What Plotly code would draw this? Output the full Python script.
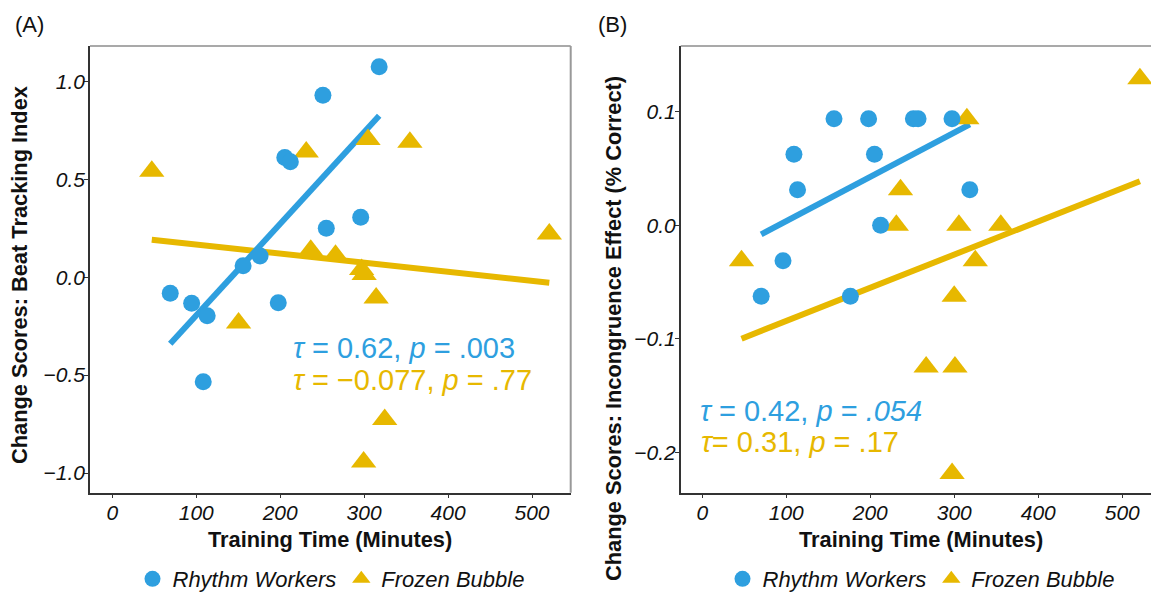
import numpy as np
import plotly.graph_objects as go

# ---------------- data ----------------
groups = ["Rhythm Workers", "Frozen Bubble"]

# Panel A: Beat Tracking Index change scores
a_rw_time = [69, 94.5, 108.3, 113, 155.8, 176, 197.7, 205.5, 212.1, 250.9, 254.9, 295.9, 317.9]
a_rw_score = [-0.082, -0.133, -0.534, -0.197, 0.059, 0.108, -0.130, 0.612, 0.590, 0.930, 0.250, 0.306, 1.075]
a_fb_time = [47, 150.4, 231, 236.4, 265.9, 297, 299.4, 300, 304.6, 314.3, 324.5, 354.5, 520.6]
a_fb_score = [0.541, -0.234, 0.640, 0.138, 0.112, 0.039, -0.944, 0.014, 0.703, -0.106, -0.727, 0.689, 0.221]

# Panel B: Incongruence Effect (% correct) change scores
b_rw_time = [70.1, 96.1, 109.1, 113.4, 156.8, 176.3, 198, 205, 212.3, 251.3, 256.9, 297.3, 318.5]
b_rw_score = [-0.0625, -0.03125, 0.0625, 0.03125, 0.09375, -0.0625, 0.09375, 0.0625, 0.0,
              0.09375, 0.09375, 0.09375, 0.03125]
b_fb_time = [46.7, 231, 236, 266.5, 297.4, 299.9, 300.8, 305.5, 315, 325, 355.4, 521]
b_fb_score = [-0.03125, 0.0, 0.03125, -0.125, -0.21875, -0.0625, -0.125, 0.0, 0.09375, -0.03125, 0.0, 0.129]

x_ticks = [0, 100, 200, 300, 400, 500]
a_y_ticks = [-1.0, -0.5, 0.0, 0.5, 1.0]
b_y_ticks = [-0.2, -0.1, 0.0, 0.1]

a_stats = ["<i>τ</i> = 0.62, <i>p</i> = .003", "<i>τ</i> = −0.077, <i>p</i> = .77"]
b_stats = ["<i>τ</i> = 0.42, <i>p</i> = <i>.054</i>", "<i>τ</i>= 0.31, <i>p</i> = .17"]

# ---------------- styling ----------------
W, H = 1151, 592
BLUE = "#2E9FDF"
GOLD = "#E7B800"
FONT = "Liberation Sans, Arial, Helvetica, sans-serif"


def fit_line(x, y):
    x = np.asarray(x, float)
    y = np.asarray(y, float)
    m, b = np.polyfit(x, y, 1)
    xs = np.array([x.min(), x.max()])
    return xs, m * xs + b


fig = go.Figure()

panels = [
    ("x", "y", "legend", a_rw_time, a_rw_score, a_fb_time, a_fb_score),
    ("x2", "y2", "legend2", b_rw_time, b_rw_score, b_fb_time, b_fb_score),
]

# regression lines (lm fits, as geom_smooth)
for xa, ya, lg, rwx, rwy, fbx, fby in panels:
    fx, fy = fit_line(fbx, fby)
    fig.add_trace(go.Scatter(x=fx, y=fy, mode="lines", line=dict(color=GOLD, width=6),
                             xaxis=xa, yaxis=ya, showlegend=False, hoverinfo="skip"))
    rx, ry = fit_line(rwx, rwy)
    fig.add_trace(go.Scatter(x=rx, y=ry, mode="lines", line=dict(color=BLUE, width=6),
                             xaxis=xa, yaxis=ya, showlegend=False, hoverinfo="skip"))

# points: triangles below circles
for xa, ya, lg, rwx, rwy, fbx, fby in panels:
    fig.add_trace(go.Scatter(x=fbx, y=fby, mode="markers", name=groups[1], legendrank=2,
                             marker=dict(symbol="triangle-up", size=22, color=GOLD, line=dict(width=0)),
                             xaxis=xa, yaxis=ya, legend=lg))
    fig.add_trace(go.Scatter(x=rwx, y=rwy, mode="markers", name=groups[0], legendrank=1,
                             marker=dict(symbol="circle", size=17, color=BLUE, line=dict(width=0)),
                             xaxis=xa, yaxis=ya, legend=lg))

ydom = [1 - 492.7 / H, 1 - 46 / H]
tickfont = dict(family=FONT, size=21, color="#111111", style="italic")
axis_common = dict(showgrid=False, zeroline=False, showline=True, linecolor="#333333", linewidth=1.5,
                   ticks="outside", ticklen=4, tickwidth=1, tickcolor="#333333", tickfont=tickfont,
                   automargin=False)
xstand = dict(ticklabelstandoff=-4)
ystand = dict(ticklabelstandoff=-5)

legend_font = dict(family=FONT, size=22, color="#111111", style="italic")
fig.update_layout(
    width=W, height=H,
    margin=dict(l=0, r=0, t=0, b=0, autoexpand=False),
    paper_bgcolor="white", plot_bgcolor="white",
    xaxis=dict(domain=[90 / W, 570.7 / W], range=[-26.6, 546.1], tickvals=x_ticks, anchor="y",
               **axis_common, **xstand),
    yaxis=dict(domain=ydom, range=[-1.1006, 1.181], tickvals=a_y_ticks, tickformat=".1f", anchor="x",
               **axis_common, **ystand),
    xaxis2=dict(domain=[680.7 / W, 1.0], range=[-25.7, 534.2], tickvals=x_ticks, anchor="y2",
                **axis_common, **xstand),
    yaxis2=dict(domain=ydom, range=[-0.2356, 0.1578], tickvals=b_y_ticks, tickformat=".1f", anchor="x2",
                **axis_common, **ystand),
    legend=dict(orientation="h", x=331 / W, xanchor="center", y=1 - 579 / H, yanchor="middle",
                font=legend_font, bgcolor="rgba(0,0,0,0)", itemsizing="trace", traceorder="normal"),
    legend2=dict(orientation="h", x=921 / W, xanchor="center", y=1 - 579 / H, yanchor="middle",
                 font=legend_font, bgcolor="rgba(0,0,0,0)", itemsizing="trace", traceorder="normal"),
    showlegend=True,
)

# frame: top and right edges
shapes = []
for xd, yd, right in [("x domain", "y domain", True), ("x2 domain", "y2 domain", False)]:
    shapes.append(dict(type="line", xref=xd, yref=yd, x0=0, x1=1, y0=1, y1=1,
                       line=dict(color="#555555", width=1.2)))
    if right:
        shapes.append(dict(type="line", xref=xd, yref=yd, x0=1, x1=1, y0=0, y1=1,
                           line=dict(color="#999999", width=2)))
fig.update_layout(shapes=shapes)

ann = []
title_font = dict(family=FONT, size=21.8, color="#111111", weight="bold")
# x axis titles
for cx in (330.4, 921):
    ann.append(dict(text="Training Time (Minutes)", x=cx / W, y=1 - 539 / H, xref="paper", yref="paper",
                    xanchor="center", yanchor="middle", showarrow=False, font=title_font))
# y axis titles
ann.append(dict(text="Change Scores: Beat Tracking Index", x=20 / W, y=1 - 275 / H, xref="paper",
                yref="paper", xanchor="center", yanchor="middle", textangle=-90, showarrow=False,
                font=title_font))
ann.append(dict(text="Change Scores: Incongruence Effect (% Correct)", x=613 / W, y=1 - 329 / H,
                xref="paper", yref="paper", xanchor="center", yanchor="middle", textangle=-90,
                showarrow=False, font=title_font))
# panel tags
tag_font = dict(family=FONT, size=22, color="#111111")
ann.append(dict(text="(A)", x=13 / W, y=1 - 24 / H, xref="paper", yref="paper", xanchor="left",
                yanchor="middle", showarrow=False, font=tag_font))
ann.append(dict(text="(B)", x=596 / W, y=1 - 24 / H, xref="paper", yref="paper", xanchor="left",
                yanchor="middle", showarrow=False, font=tag_font))
# statistics
stat_font = 29
ann.append(dict(text=a_stats[0], x=213, y=-0.362, xref="x", yref="y", xanchor="left", yanchor="middle",
                showarrow=False, font=dict(family=FONT, size=stat_font, color=BLUE)))
ann.append(dict(text=a_stats[1], x=213, y=-0.525, xref="x", yref="y", xanchor="left", yanchor="middle",
                showarrow=False, font=dict(family=FONT, size=stat_font, color=GOLD)))
ann.append(dict(text=b_stats[0], x=-5.5, y=-0.164, xref="x2", yref="y2", xanchor="left", yanchor="middle",
                showarrow=False, font=dict(family=FONT, size=stat_font, color=BLUE)))
ann.append(dict(text=b_stats[1], x=-3.5, y=-0.191, xref="x2", yref="y2", xanchor="left", yanchor="middle",
                showarrow=False, font=dict(family=FONT, size=stat_font, color=GOLD)))
fig.update_layout(annotations=ann)

fig.write_html("out.html")
